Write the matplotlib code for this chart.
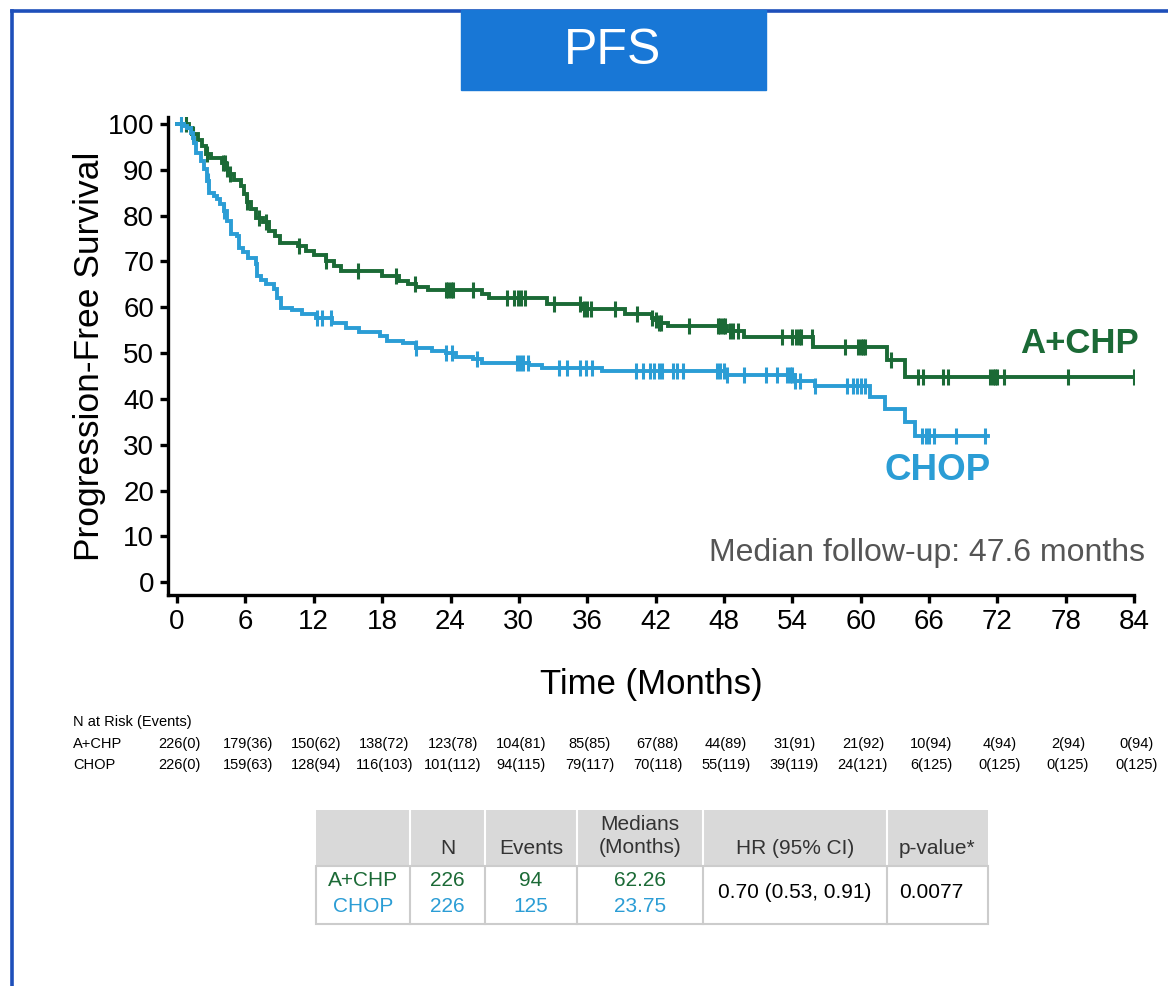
import matplotlib
matplotlib.use("Agg")
import matplotlib.pyplot as plt
from matplotlib.patches import Rectangle
from matplotlib.lines import Line2D
from matplotlib.transforms import blended_transform_factory
import numpy as np

plt.rcParams['font.family'] = ['Liberation Sans', 'DejaVu Sans']

GREEN = '#1b6a36'
BLUE = '#2b9dd5'
FRAME = '#1e4fba'
TITLE_BG = '#1877d6'

# Kaplan-Meier steps: time of drop (months) and survival after the drop (%)
achp_t = [0, 1.0, 1.3, 1.8, 2.2, 2.5, 3.0, 3.9, 4.3, 4.6, 5.0, 5.6, 5.9, 6.1, 6.5,
          6.9, 7.5, 8.1, 8.6, 9.0, 10.6, 11.3, 12.0, 13.1, 13.8, 14.4, 18.0, 19.5,
          20.3, 21.0, 22.0, 26.8, 27.4, 32.5, 35.5, 39.3, 41.7, 42.0, 42.3, 43.1,
          48.3, 49.8, 55.8, 62.3, 63.9]
achp_s = [100, 99.1, 97.8, 96.5, 95.2, 93.5, 92.5, 91.5, 90.2, 89.0, 87.8, 86.5,
          84.8, 83.0, 81.5, 79.5, 78.5, 76.7, 75.5, 74.0, 73.3, 72.3, 71.4, 70.1,
          69.0, 68.0, 66.9, 65.8, 65.0, 64.3, 63.7, 62.9, 62.1, 60.8, 59.7, 58.6,
          57.7, 57.2, 56.6, 56.0, 54.9, 53.4, 51.3, 48.4, 44.7]
achp_end = 84.0
achp_cens = [0.8, 1.4, 2.6, 4.0, 4.2, 4.4, 4.6, 6.1, 7.2, 7.8, 10.7, 13.1, 15.9,
             19.2, 20.9, 23.6, 23.8, 24.0, 24.2, 26.0, 29.0, 29.6, 29.9, 30.2, 30.5,
             33.1, 35.4, 35.7, 36.0, 36.3, 38.4, 40.4, 41.7, 42.0, 42.3, 42.5, 44.9,
             47.5, 47.7, 47.9, 48.1, 48.5, 48.8, 49.2, 53.1, 54.0, 54.3, 54.6, 54.8,
             55.7, 58.6, 59.8, 60.0, 60.2, 60.4, 62.7, 65.0, 65.5, 67.2, 67.7, 71.4,
             71.6, 71.8, 72.0, 72.6, 78.2, 84.0]

chop_t = [0, 0.6, 0.9, 1.2, 1.4, 1.5, 1.7, 2.1, 2.4, 2.6, 2.8, 3.2, 3.5, 3.8, 4.1,
          4.4, 4.7, 5.3, 5.4, 5.8, 6.2, 6.9, 7.0, 7.4, 7.8, 8.5, 8.8, 9.1, 10.1,
          11.0, 12.2, 13.6, 14.8, 16.0, 17.8, 18.4, 19.8, 21.0, 22.4, 23.6, 24.5,
          26.0, 26.8, 30.9, 32.0, 37.3, 48.2, 54.2, 56.0, 60.8, 62.1, 63.9, 64.8]
chop_s = [100, 99.6, 99.1, 98.0, 96.9, 95.9, 93.7, 91.9, 90.2, 87.6, 85.0, 84.3,
          83.7, 82.5, 81.0, 78.9, 76.0, 75.6, 73.0, 72.0, 70.8, 69.5, 66.9, 66.0,
          65.1, 64.0, 62.1, 59.9, 59.3, 58.6, 57.7, 56.6, 55.5, 54.5, 53.8, 52.7,
          52.1, 51.2, 50.5, 50.1, 49.2, 48.8, 47.9, 47.3, 46.8, 46.0, 45.1, 44.0,
          42.9, 40.3, 37.7, 34.9, 32.0]
chop_end = 71.2
chop_cens = [0.3, 2.7, 4.1, 12.3, 12.7, 13.5, 21.0, 23.6, 24.1, 26.3, 29.8, 30.1,
             30.4, 30.8, 33.5, 34.2, 35.4, 35.9, 36.4, 40.3, 40.9, 41.5, 41.9, 42.3,
             42.6, 43.5, 43.9, 44.4, 47.4, 47.7, 48.0, 48.3, 49.8, 51.7, 52.7, 53.5,
             53.8, 54.0, 54.2, 54.7, 56.0, 58.8, 59.3, 59.7, 60.0, 60.4, 65.4, 65.7,
             66.0, 66.4, 68.4, 70.9]

# numbers at risk
risk_times = [0, 6, 12, 18, 24, 30, 36, 42, 48, 54, 60, 66, 72, 78, 84]
risk_achp = ['226(0)', '179(36)', '150(62)', '138(72)', '123(78)', '104(81)', '85(85)',
             '67(88)', '44(89)', '31(91)', '21(92)', '10(94)', '4(94)', '2(94)', '0(94)']
risk_chop = ['226(0)', '159(63)', '128(94)', '116(103)', '101(112)', '94(115)', '79(117)',
             '70(118)', '55(119)', '39(119)', '24(121)', '6(125)', '0(125)', '0(125)', '0(125)']

# summary table
tbl_cols = ['', 'N', 'Events', 'Medians\n(Months)', 'HR (95% CI)', 'p-value*']
tbl_achp = ['A+CHP', '226', '94', '62.26']
tbl_chop = ['CHOP', '226', '125', '23.75']
tbl_hr = '0.70 (0.53, 0.91)'
tbl_p = '0.0077'

W, H = 1168, 986
fig = plt.figure(figsize=(W / 100, H / 100), dpi=100)

# overlay in pixel coordinates for frame, title and tables
ov = fig.add_axes([0, 0, 1, 1], zorder=0)
ov.set_xlim(0, W)
ov.set_ylim(H, 0)
ov.axis('off')

ax = fig.add_axes([168 / W, 1 - 595 / H, (1134 - 168) / W, (595 - 117) / H], zorder=1)
ax.patch.set_alpha(0)


def km(ax, t, s, end, cens, color):
    tt = list(t) + [end]
    ss = list(s) + [s[-1]]
    ax.step(tt, ss, where='post', color=color, lw=2.8, solid_joinstyle='miter')
    idx = np.searchsorted(t, cens, side='right') - 1
    cy = np.array(s)[idx]
    ax.plot(cens, cy, ls='none', marker='|', ms=11, mew=2.2, color=color)


km(ax, achp_t, achp_s, achp_end, achp_cens, GREEN)
km(ax, chop_t, chop_s, chop_end, chop_cens, BLUE)

ax.set_xlim(-0.8, 84)
ax.set_ylim(-2.8, 101.5)
ax.set_xticks(range(0, 85, 6))
ax.set_yticks(range(0, 101, 10))
ax.spines['top'].set_visible(False)
ax.spines['right'].set_visible(False)
for sp in ('left', 'bottom'):
    ax.spines[sp].set_linewidth(2.4)
ax.tick_params(width=2.4, length=6, labelsize=20, pad=4)
ax.set_ylabel('Progression-Free Survival', fontsize=25.5, labelpad=1)
ax.set_xlabel('Time (Months)', fontsize=25, labelpad=24)

ax.text(84.4, 52.0, 'A+CHP', color=GREEN, fontsize=25, fontweight='bold',
        ha='right', va='center')
ax.text(71.4, 24.4, 'CHOP', color=BLUE, fontsize=26.5, fontweight='bold',
        ha='right', va='center')
ax.text(85.0, 6.3, 'Median follow-up: 47.6 months', color='#555555', fontsize=23,
        ha='right', va='center')

# frame and title box
ov.add_line(Line2D([11.5, W], [11, 11], color=FRAME, lw=2.6))
ov.add_line(Line2D([11.5, 11.5], [11, H], color=FRAME, lw=2.6))
ov.add_patch(Rectangle((461, 10), 305, 80, color=TITLE_BG, zorder=3))
ov.text(613, 51, 'PFS', color='white', fontsize=36, ha='center', va='center', zorder=4)

# numbers at risk
rt = blended_transform_factory(ax.transData, ov.transData)
narrow = ['Liberation Sans Narrow', 'Liberation Sans', 'DejaVu Sans']
ov.text(73, 722, 'N at Risk (Events)', fontsize=10.5, family=narrow, va='center')
ov.text(73, 744, 'A+CHP', fontsize=10.5, family=narrow, va='center')
ov.text(73, 765, 'CHOP', fontsize=10.5, family=narrow, va='center')
for m, a, c in zip(risk_times, risk_achp, risk_chop):
    ov.text(m + 0.2, 744, a, transform=rt, fontsize=10.5, family=narrow,
            ha='center', va='center')
    ov.text(m + 0.2, 765, c, transform=rt, fontsize=10.5, family=narrow,
            ha='center', va='center')

# summary table
edges = [316, 410, 485, 577, 703, 887, 988]
top, mid, bot = 810, 866, 924
ov.add_patch(Rectangle((edges[0], top), edges[-1] - edges[0], mid - top,
                       facecolor='#d9d9d9', edgecolor='none'))
ov.add_patch(Rectangle((edges[0], mid), edges[-1] - edges[0], bot - mid,
                       facecolor='white', edgecolor='#cccccc', lw=1.5))
for x in edges[1:-1]:
    ov.add_line(Line2D([x, x], [top, mid], color='white', lw=1.5))
    ov.add_line(Line2D([x, x], [mid, bot], color='#cccccc', lw=1.5))
centers = [(a + b) / 2 for a, b in zip(edges[:-1], edges[1:])]
for cx, lab in zip(centers, tbl_cols):
    ypos = 836 if '\n' in lab else 849
    ov.text(cx, ypos, lab, fontsize=15, color='#333333', ha='center', va='center',
            linespacing=1.3)
for i, (g, b) in enumerate(zip(tbl_achp, tbl_chop)):
    ov.text(centers[i], 881, g, fontsize=15, color=GREEN, ha='center', va='center')
    ov.text(centers[i], 906, b, fontsize=15, color=BLUE, ha='center', va='center')
ov.text(centers[4], 893, tbl_hr, fontsize=15, color='black', ha='center', va='center')
ov.text(centers[5] - 6, 893, tbl_p, fontsize=15, color='black', ha='center', va='center')

fig.savefig('out.png', dpi=100)
